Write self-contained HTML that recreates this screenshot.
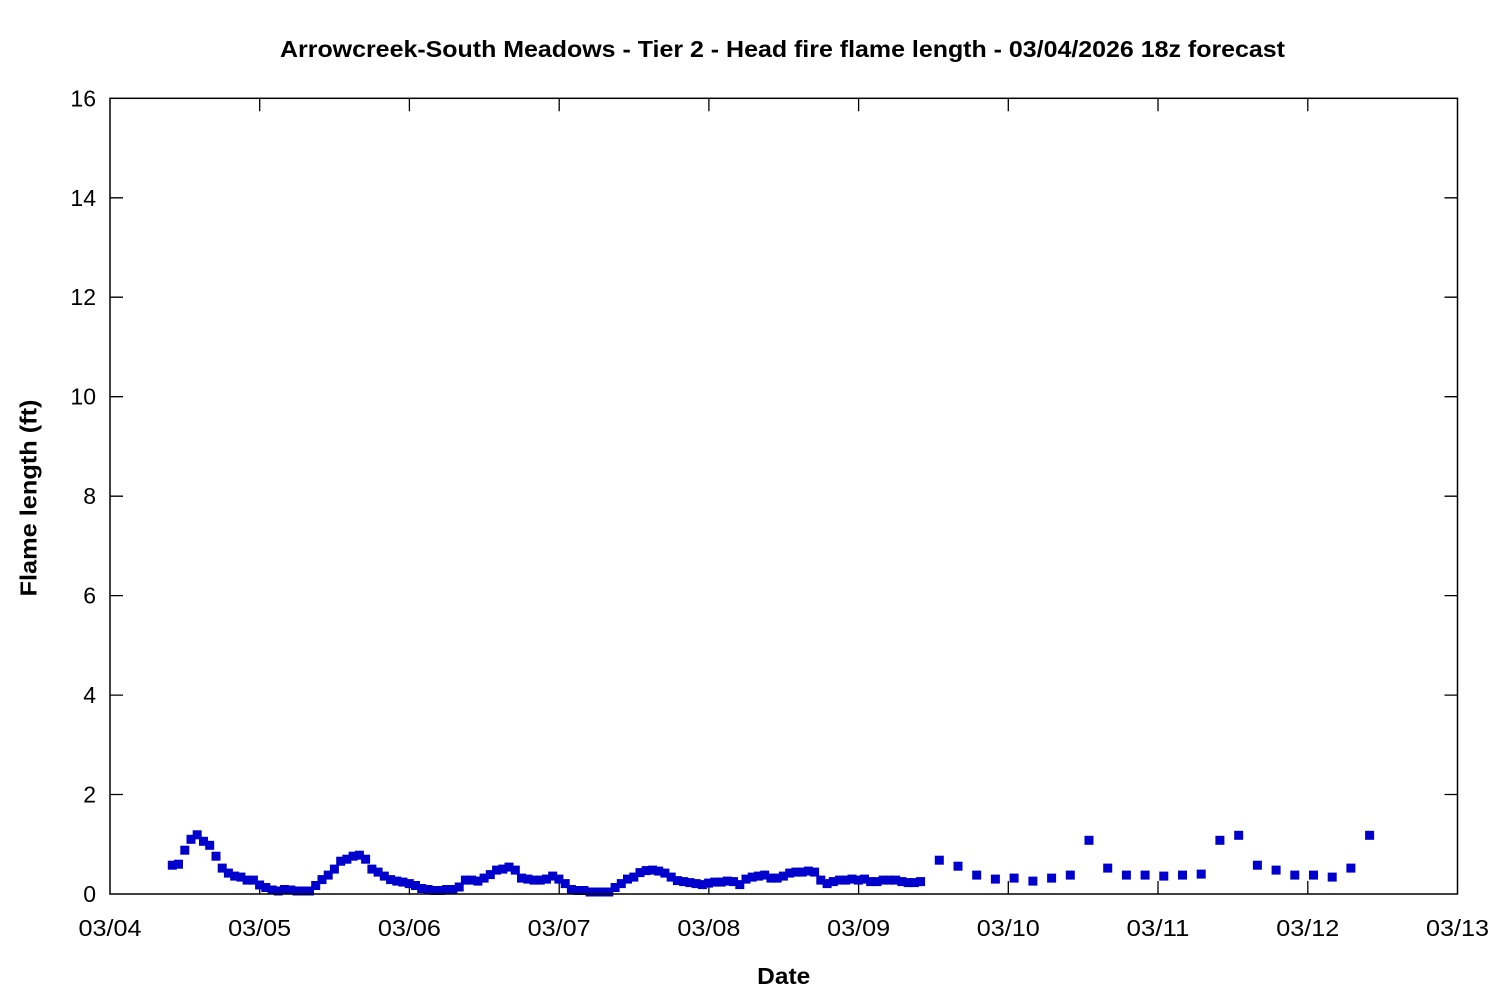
<!DOCTYPE html>
<html>
<head>
<meta charset="utf-8">
<style>
html,body{margin:0;padding:0;background:#fff;}
svg{display:block;}
text{font-family:"Liberation Sans",sans-serif;fill:#000;}
</style>
</head>
<body>
<svg width="1500" height="1000" viewBox="0 0 1500 1000" xmlns="http://www.w3.org/2000/svg">
<defs>
<marker id="sq" markerUnits="userSpaceOnUse" markerWidth="10" markerHeight="10" refX="5" refY="5" viewBox="0 0 10 10" overflow="visible">
<rect x="0.5" y="0.5" width="9" height="9" fill="#0000cc"/>
</marker>
</defs>
<rect width="1500" height="1000" fill="#fff"/>
<text x="782.5" y="57" font-size="23" font-weight="bold" text-anchor="middle" textLength="1005" lengthAdjust="spacingAndGlyphs">Arrowcreek-South Meadows - Tier 2 - Head fire flame length - 03/04/2026 18z forecast</text>
<text x="783.7" y="984" font-size="23" font-weight="bold" text-anchor="middle" textLength="53" lengthAdjust="spacingAndGlyphs">Date</text>
<text transform="translate(36.7,498) rotate(-90)" font-size="23" font-weight="bold" text-anchor="middle" textLength="197" lengthAdjust="spacingAndGlyphs">Flame length (ft)</text>
<g stroke="#000" stroke-width="1.3" fill="none">
<path d="M110 794.5h13M110 695.1h13M110 595.6h13M110 496.2h13M110 396.7h13M110 297.2h13M110 197.8h13"/>
<path d="M1457.5 794.5h-13M1457.5 695.1h-13M1457.5 595.6h-13M1457.5 496.2h-13M1457.5 396.7h-13M1457.5 297.2h-13M1457.5 197.8h-13"/>
<path d="M259.7 894v-13M409.4 894v-13M559.2 894v-13M708.9 894v-13M858.6 894v-13M1008.3 894v-13M1158 894v-13M1307.8 894v-13"/>
<path d="M259.7 98.3v13M409.4 98.3v13M559.2 98.3v13M708.9 98.3v13M858.6 98.3v13M1008.3 98.3v13M1158 98.3v13M1307.8 98.3v13"/>
</g>
<g font-size="23" text-anchor="end">
<text x="96" y="902">0</text>
<text x="96" y="802.5">2</text>
<text x="96" y="703.1">4</text>
<text x="96" y="603.6">6</text>
<text x="96" y="504.2">8</text>
<text x="96" y="404.7">10</text>
<text x="96" y="305.2">12</text>
<text x="96" y="205.8">14</text>
<text x="96" y="106.3">16</text>
</g>
<g font-size="23" text-anchor="middle">
<text x="110" y="936" textLength="63" lengthAdjust="spacingAndGlyphs">03/04</text>
<text x="259.7" y="936" textLength="63" lengthAdjust="spacingAndGlyphs">03/05</text>
<text x="409.4" y="936" textLength="63" lengthAdjust="spacingAndGlyphs">03/06</text>
<text x="559.2" y="936" textLength="63" lengthAdjust="spacingAndGlyphs">03/07</text>
<text x="708.9" y="936" textLength="63" lengthAdjust="spacingAndGlyphs">03/08</text>
<text x="858.6" y="936" textLength="63" lengthAdjust="spacingAndGlyphs">03/09</text>
<text x="1008.3" y="936" textLength="63" lengthAdjust="spacingAndGlyphs">03/10</text>
<text x="1158" y="936" textLength="63" lengthAdjust="spacingAndGlyphs">03/11</text>
<text x="1307.8" y="936" textLength="63" lengthAdjust="spacingAndGlyphs">03/12</text>
<text x="1457.5" y="936" textLength="63" lengthAdjust="spacingAndGlyphs">03/13</text>
</g>
<polyline fill="none" stroke="none" marker-start="url(#sq)" marker-mid="url(#sq)" marker-end="url(#sq)" points="172.3,865.2 178.5,864.2 184.8,850.2 191,839.3 197.2,834.8 203.5,841.3 209.7,845.3 216,856.2 222.2,868.1 228.4,873.1 234.7,876.1 240.9,877.1 247.1,880.1 253.4,880.1 259.6,885 265.8,887.5 272.1,890 278.3,891 284.5,889.5 290.8,890 297,891 303.3,891 309.5,891 315.7,885.5 322,879.6 328.2,875.1 334.4,869.1 340.7,861.2 346.9,859.2 353.1,856.2 359.4,855.2 365.6,859.2 371.9,869.1 378.1,872.1 384.3,876.1 390.6,879.6 396.8,881.1 403,882.1 409.3,883.6 415.5,885.5 421.7,888.5 428,889.5 434.2,890.5 440.4,890.5 446.7,889.5 452.9,889.5 459.2,887 465.4,880.1 471.6,880.1 477.9,881.1 484.1,878.1 490.3,874.6 496.6,870.1 502.8,869.1 509,867.1 515.3,870.1 521.5,878.1 527.8,879.1 534,880.1 540.2,880.1 546.5,879.1 552.7,876.1 558.9,879.1 565.2,883.6 571.4,889.5 577.6,890.5 583.9,890.5 590.1,892 596.3,892 602.6,892 608.8,892 615.1,887.5 621.3,883.6 627.5,879.1 633.8,877.1 640,872.6 646.2,870.6 652.5,870.1 658.7,871.1 664.9,873.1 671.2,877.1 677.4,880.6 683.7,881.6 689.9,882.6 696.1,883.6 702.4,884.6 708.6,883.1 714.8,882.1 721.1,882.1 727.3,881.1 733.5,881.6 739.8,884.6 746,879.1 752.2,877.1 758.5,876.1 764.7,875.1 771,878.1 777.2,878.1 783.4,876.1 789.7,873.1 795.9,872.1 802.1,872.1 808.4,871.1 814.6,872.1 820.8,880.1 827.1,883.6 833.3,881.6 839.6,880.1 845.8,880.1 852,879.1 858.3,880.1 864.5,879.1 870.7,881.6 877,881.6 883.2,880.1 889.4,880.1 895.7,880.1 901.9,881.6 908.2,882.6 914.4,882.6 920.6,881.6"/>
<polyline fill="none" stroke="none" marker-start="url(#sq)" marker-mid="url(#sq)" marker-end="url(#sq)" points="939.3,860.2 958,866.2 976.7,875.1 995.4,879.1 1014.1,878.1 1032.9,881.1 1051.6,878.1 1070.3,875.1 1089,840.3 1107.7,868.1 1126.4,875.1 1145.1,875.1 1163.8,876.1 1182.5,875.1 1201.2,874.1 1219.9,840.3 1238.7,835.3 1257.4,865.2 1276.1,870.1 1294.8,875.1 1313.5,875.1 1332.2,877.1 1350.9,868.1 1369.6,835.3"/>
<rect x="110" y="98.3" width="1347.5" height="795.7" fill="none" stroke="#000" stroke-width="1.5"/>
</svg>
</body>
</html>
